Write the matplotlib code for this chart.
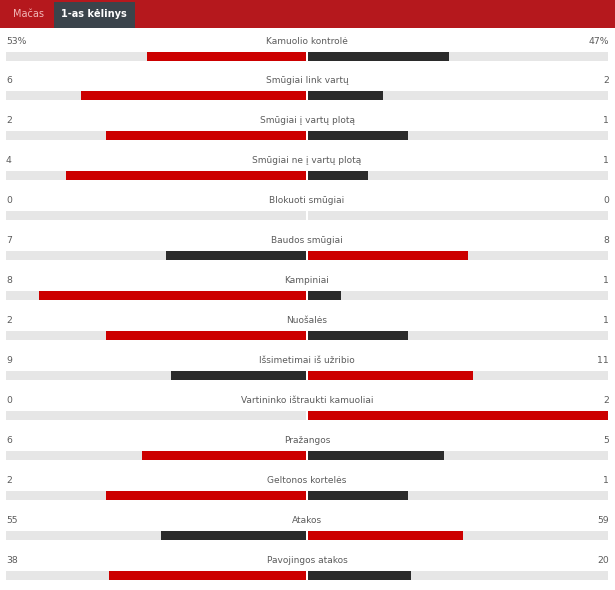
import matplotlib
matplotlib.use("Agg")
import matplotlib.pyplot as plt
from matplotlib.patches import Rectangle

LABELS = [
    "Kamuolio kontrolė", "Smūgiai link vartų", "Smūgiai į vartų plotą",
    "Smūgiai ne į vartų plotą", "Blokuoti smūgiai", "Baudos smūgiai",
    "Kampiniai", "Nuošalės", "Išsimetimai iš užribio",
    "Vartininko ištraukti kamuoliai", "Pražangos", "Geltonos kortelės",
    "Atakos", "Pavojingos atakos",
]
HOME = [53, 6, 2, 4, 0, 7, 8, 2, 9, 0, 6, 2, 55, 38]
AWAY = [47, 2, 1, 1, 0, 8, 1, 1, 11, 2, 5, 1, 59, 20]
SUFFIX = ["%"] + [""] * 13
TABS = ["Mačas", "1-as kėlinys"]

RED = "#cc0000"
DARK = "#2b2b2b"
TRACK = "#e6e6e6"
TEXT = "#5c5c5c"

W, H = 615, 590
fig = plt.figure(figsize=(W / 100, H / 100), dpi=100)
ax = fig.add_axes([0, 0, 1, 1])
ax.set_xlim(0, W)
ax.set_ylim(H, 0)
ax.axis("off")

# header strip with tabs
ax.add_patch(Rectangle((0, 0), W, 28, color="#b5181d", lw=0))
ax.add_patch(Rectangle((54, 2), 81, 26, color="#3b444b", lw=0))
ax.text(28, 14, TABS[0], ha="center", va="center", fontsize=7, color="#f2b8b8")
ax.text(94, 14, TABS[1], ha="center", va="center", fontsize=7, color="white", fontweight="bold")

CENTER = 307
HALF = 300
row0, step = 41, 39.95
for i, (lab, h, a, suf) in enumerate(zip(LABELS, HOME, AWAY, SUFFIX)):
    ty = row0 + i * step
    by = ty + 15
    ax.text(6, ty, f"{h}{suf}", ha="left", va="center", fontsize=6.7, color=TEXT)
    ax.text(609, ty, f"{a}{suf}", ha="right", va="center", fontsize=6.7, color=TEXT)
    ax.text(CENTER, ty, lab, ha="center", va="center", fontsize=6.5, color=TEXT)
    ax.barh(by, HALF, left=CENTER - 1 - HALF, height=9, color=TRACK, lw=0)
    ax.barh(by, HALF, left=CENTER + 1, height=9, color=TRACK, lw=0)
    tot = h + a
    if tot == 0:
        continue
    hw = HALF * h / tot
    aw = HALF * a / tot
    hc = RED if h > a else DARK
    ac = RED if a > h else DARK
    ax.barh(by, hw, left=CENTER - 1 - hw, height=9, color=hc, lw=0)
    ax.barh(by, aw, left=CENTER + 1, height=9, color=ac, lw=0)

fig.savefig("out.png", dpi=100, facecolor="white")
